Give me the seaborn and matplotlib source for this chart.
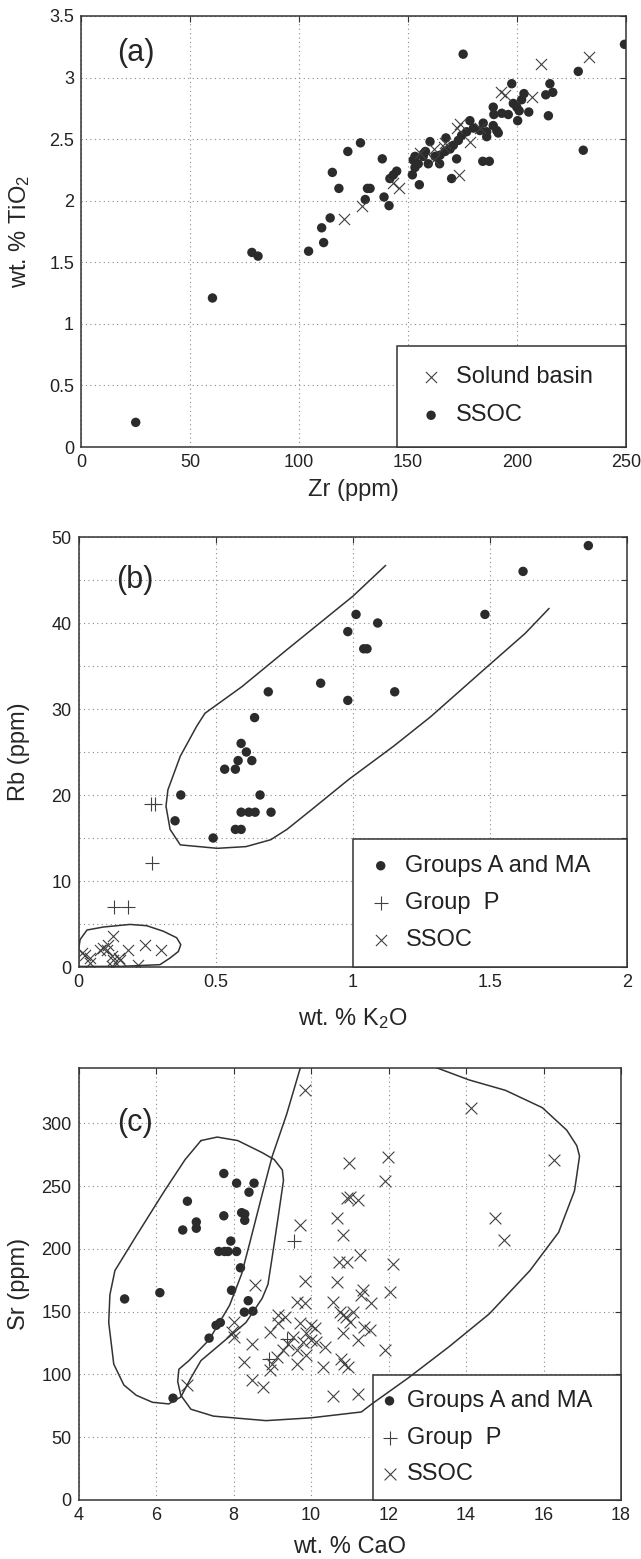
import numpy as np
import pandas as pd
import matplotlib
matplotlib.use("Agg")
import matplotlib.pyplot as plt
import seaborn as sns

# ---------------- data: panel (a) ----------------
ssoc_a_zr = [25.1, 60.3, 78.4, 81.2, 104.4, 110.4, 111.3, 114.3, 115.3, 118.3, 122.4, 128.2,
             130.4, 131.4, 132.6, 138.2, 139.0, 141.3, 141.7, 143.3, 144.8, 152.0, 152.4, 153.2,
             153.2, 154.7, 155.2, 157.0, 159.3, 160.1, 162.4, 164.7, 164.5, 167.0, 167.4, 169.3,
             170.0, 170.8, 172.3, 173.1, 174.6, 175.3, 176.9, 178.4, 180.0, 183.0, 184.5, 184.3,
             186.1, 186.1, 187.3, 189.1, 189.1, 189.4, 190.7, 191.4, 193.0, 196.0, 197.6, 198.3,
             199.9, 200.3, 201.0, 202.1, 203.2, 205.4, 213.2, 214.4, 215.1, 216.4, 228.1, 230.4,
             249.3, 157.0, 163.2, 158.0]
ssoc_a_ti = [0.20, 1.21, 1.58, 1.55, 1.59, 1.78, 1.66, 1.86, 2.23, 2.10, 2.40, 2.47,
             2.01, 2.10, 2.10, 2.34, 2.03, 1.96, 2.18, 2.21, 2.24, 2.21, 2.33, 2.36,
             2.27, 2.30, 2.13, 2.36, 2.30, 2.48, 2.36, 2.37, 2.30, 2.40, 2.51, 2.42,
             2.18, 2.45, 2.34, 2.49, 2.53, 3.19, 2.56, 2.65, 2.59, 2.57, 2.63, 2.32,
             2.56, 2.52, 2.32, 2.76, 2.61, 2.70, 2.57, 2.55, 2.71, 2.70, 2.95, 2.79,
             2.76, 2.65, 2.73, 2.82, 2.87, 2.72, 2.86, 2.69, 2.95, 2.88, 3.05, 2.41,
             3.27, 2.38, 2.36, 2.40]
solund_zr = [120.5, 128.9, 143.0, 146.1, 155.3, 162.0, 161.7, 166.7, 167.0, 172.7, 174.0,
             173.5, 178.5, 183.2, 192.5, 194.5, 207.0, 210.8, 232.8]
solund_ti = [1.85, 1.96, 2.14, 2.10, 2.39, 2.33, 2.42, 2.44, 2.47, 2.59, 2.62,
             2.21, 2.48, 2.59, 2.88, 2.86, 2.84, 3.11, 3.17]

# ---------------- data: panel (b) ----------------
ama_b_k2o = [0.352, 0.373, 0.491, 0.533, 0.572, 0.572, 0.593, 0.582, 0.593, 0.612, 0.632,
             0.593, 0.621, 0.644, 0.642, 0.662, 0.692, 0.702, 0.883, 0.982, 0.982, 1.012,
             1.040, 1.052, 1.091, 1.153, 1.482, 1.621, 1.859]
ama_b_rb = [17, 20, 15, 23, 23, 16, 16, 24, 26, 25, 24,
            18, 18, 18, 29, 20, 32, 18, 33, 39, 31, 41,
            37, 37, 40, 32, 41, 46, 49]
grpP_b_k2o = [0.263, 0.278, 0.268, 0.131, 0.182]
grpP_b_rb = [19, 19, 12.1, 7, 7]
ssoc_b_k2o = [0.012, 0.024, 0.043, 0.043, 0.079, 0.091, 0.109, 0.103, 0.127, 0.122, 0.127,
              0.146, 0.152, 0.122, 0.182, 0.218, 0.243, 0.300]
ssoc_b_rb = [1.6, 1.43, 1.05, 0.47, 2.0, 2.2, 2.6, 2.0, 3.56, 1.23, 0.85,
             1.05, 0.85, 0.07, 2.0, 0.27, 2.6, 2.0]
env_b1_x = [1.120, 1.000, 0.760, 0.596, 0.461, 0.431, 0.371, 0.326, 0.319, 0.334, 0.371,
            0.506, 0.611, 0.701, 0.760, 0.850, 0.985, 1.150, 1.284, 1.479, 1.629, 1.716]
env_b1_y = [46.7, 43.1, 36.9, 32.6, 29.5, 28.0, 24.5, 20.6, 18.7, 16.0, 14.2,
            13.8, 14.0, 14.8, 16.0, 18.3, 21.8, 25.7, 29.1, 34.6, 38.8, 41.7]
env_b2_x = [0.0, 0.006, 0.031, 0.091, 0.188, 0.249, 0.310, 0.358, 0.373, 0.364, 0.334,
            0.297, 0.152, 0.0, 0.0]
env_b2_y = [2.0, 3.2, 4.3, 4.65, 4.95, 4.8, 4.15, 3.4, 2.6, 1.8, 1.05,
            0.27, 0.07, 0.07, 2.0]

# ---------------- data: panel (c) ----------------
ama_c_cao = [5.19, 6.10, 6.44, 6.69, 6.81, 7.04, 7.04, 7.37, 7.55, 7.66, 7.62, 7.75, 7.75,
             7.77, 7.86, 7.93, 7.95, 8.08, 8.08, 8.18, 8.21, 8.29, 8.29, 8.28, 8.40, 8.38,
             8.53, 8.50]
ama_c_sr = [160.1, 165.1, 81.1, 215.0, 237.9, 221.4, 216.4, 128.9, 139.1, 141.3, 197.9, 260.0,
            226.3, 197.9, 197.9, 206.2, 167.0, 197.9, 252.3, 184.9, 228.8, 227.7, 222.7, 149.6,
            245.1, 158.7, 252.3, 150.4]
grpP_c_cao = [9.57, 9.37, 8.92]
grpP_c_sr = [206.2, 128.6, 112.6]
ssoc_c_cao = [9.84, 14.13, 16.26, 11.98, 10.99, 11.91, 10.93, 11.00, 11.20, 10.68, 14.76,
              9.71, 14.97, 10.83, 11.27, 10.73, 10.94, 12.12, 6.80,
              8.56, 9.84, 10.66, 11.34, 12.03, 11.55, 11.30, 9.63, 9.84, 10.57, 10.74,
              10.83, 10.91, 11.08, 11.00, 11.38, 11.51, 10.83, 11.21, 11.90, 8.00, 7.96,
              8.00, 8.47, 8.26, 8.47, 8.77, 9.16, 9.33, 8.94, 9.16, 9.54, 9.41, 9.71,
              10.01, 10.10, 9.88, 10.01, 10.14, 10.36, 9.80, 9.63, 9.28, 9.11, 8.99, 8.94,
              9.88, 9.63, 10.31, 10.78, 10.86, 10.95, 10.57, 11.21]
ssoc_c_sr = [326.3, 311.9, 271.0, 272.9, 268.2, 253.9, 240.5, 241.0, 239.0, 224.7, 224.7,
             218.6, 207.0, 210.9, 195.1, 189.6, 189.6, 188.2, 91.6,
             171.4, 174.1, 173.3, 167.4, 166.0, 156.7, 163.4, 158.0, 156.7, 158.0, 150.0,
             147.3, 146.0, 150.0, 142.0, 138.0, 135.3, 132.6, 127.3, 119.3, 142.0, 134.0,
             130.0, 124.1, 109.9, 95.2, 89.8, 147.3, 146.0, 134.0, 140.6, 130.0, 124.6, 140.6,
             139.3, 136.6, 132.6, 127.3, 125.9, 121.9, 125.9, 119.3, 119.3, 113.9, 108.6, 103.2,
             115.2, 108.6, 105.9, 112.6, 108.6, 105.9, 83.2, 84.5]
env_c1_x = [7.16, 7.58, 8.11, 8.74, 9.05, 9.26, 9.29, 9.16, 9.00, 8.89, 8.74, 8.32, 7.69,
            7.16, 6.90, 6.64, 6.33, 5.91, 5.49, 5.17, 4.91, 4.78, 4.81, 4.94, 5.49, 6.22,
            6.75, 7.16]
env_c1_y = [286.2, 289.0, 286.2, 276.6, 271.1, 262.8, 254.5, 226.9, 193.8, 171.7, 160.6,
            141.3, 124.8, 111.0, 97.2, 82.0, 76.5, 77.8, 83.4, 91.6, 108.2, 141.3, 163.4,
            182.7, 210.3, 246.2, 271.0, 286.2]
env_c2_x = [9.80, 9.37, 9.00, 8.74, 8.42, 8.21, 7.90, 7.37, 6.85, 6.59, 6.56, 6.64, 6.90,
            7.48, 8.84, 9.99, 11.30, 11.57, 12.51, 13.56, 14.60, 15.65, 16.39, 16.80, 16.93,
            16.86, 16.60, 15.97, 15.02, 14.08, 13.24, 13.00]
env_c2_y = [352, 307, 273.8, 243.4, 204.8, 180.0, 155.1, 127.5, 111.0, 104.1, 94.4, 83.4,
            72.3, 66.8, 63.2, 65.4, 70.1, 76.5, 97.2, 122.0, 148.2, 182.7, 213.1, 246.2,
            273.8, 282.1, 294.5, 312.4, 326.2, 334.5, 344.2, 352]

# ---------------- style ----------------
sns.set_theme(style="white")
plt.rcParams["font.family"] = ["Liberation Sans", "DejaVu Sans"]
plt.rcParams["mathtext.fontset"] = "custom"
plt.rcParams["mathtext.rm"] = "Liberation Sans"
plt.rcParams["mathtext.it"] = "Liberation Sans:italic"

DOT = "#2b2b2b"
XCOL = "#404040"
SPINE = "#333333"
TICK_FS = 13
LAB_FS = 17
LEG_FS = 17

W, H = 641, 1559
fig = plt.figure(figsize=(W / 100, H / 100), dpi=100)

def axes_px(l, t, r, b):
    return fig.add_axes([l / W, 1 - b / H, (r - l) / W, (b - t) / H])

axA = axes_px(81, 16, 626, 447)
axB = axes_px(78.5, 537, 627, 967)
axC = axes_px(78.5, 1068, 621, 1500)

def style_axes(ax):
    for s in ax.spines.values():
        s.set_color(SPINE)
        s.set_linewidth(1.1)
        s.set_visible(True)
    ax.tick_params(which="both", direction="in", length=4, width=0.8, color=SPINE,
                   top=True, right=True, labelsize=TICK_FS, pad=5, labelcolor="#222222")
    ax.grid(True, which="both", color="#8a8a8a", linestyle=(0, (1, 3)), linewidth=0.8)
    ax.set_axisbelow(True)

def dots(ax, x, y, label):
    sns.scatterplot(x=x, y=y, ax=ax, marker="o", s=46, color=DOT, edgecolor="none",
                    linewidth=0, label=label, zorder=3)

def crosses(ax, x, y, label, marker="x", s=64):
    sns.scatterplot(x=x, y=y, ax=ax, marker=marker, s=s, color=XCOL, linewidth=0.8,
                    label=label, zorder=4)

def make_legend(ax, order, bbox, bp, ls, hl, htp):
    h, l = ax.get_legend_handles_labels()
    d = dict(zip(l, h))
    leg = ax.legend([d[k] for k in order], order, loc="lower right", bbox_to_anchor=bbox,
                    mode="expand", borderaxespad=0, frameon=True, fancybox=False,
                    edgecolor=SPINE, facecolor="white", framealpha=1, fontsize=LEG_FS,
                    borderpad=bp, labelspacing=ls, handlelength=hl, handletextpad=htp,
                    scatterpoints=1)
    leg.get_frame().set_linewidth(1.1)
    for t in leg.get_texts():
        t.set_color("#222222")
    return leg

# ---------------- panel (a) ----------------
dots(axA, ssoc_a_zr, ssoc_a_ti, "SSOC")
crosses(axA, solund_zr, solund_ti, "Solund basin")
axA.set_xlim(0, 250)
axA.set_ylim(0, 3.5)
axA.set_xticks([0, 50, 100, 150, 200, 250])
axA.set_yticks([0, 0.5, 1, 1.5, 2, 2.5, 3, 3.5])
axA.set_yticklabels(["0", "0.5", "1", "1.5", "2", "2.5", "3", "3.5"])
style_axes(axA)
axA.set_xlabel("Zr (ppm)", fontsize=LAB_FS)
axA.set_ylabel("wt. % TiO$_2$", fontsize=LAB_FS)
axA.text(25, 3.2, "(a)", fontsize=22, ha="center", va="center")
make_legend(axA, ["Solund basin", "SSOC"], (0.58, 0, 0.42, 0.234), 0.87, 0.68, 1.14, 0.49)

# ---------------- panel (b) ----------------
dots(axB, ama_b_k2o, ama_b_rb, "Groups A and MA")
crosses(axB, grpP_b_k2o, grpP_b_rb, "Group  P", marker="+", s=90)
crosses(axB, ssoc_b_k2o, ssoc_b_rb, "SSOC")
axB.plot(env_b1_x, env_b1_y, color=SPINE, lw=1.1, zorder=6)
axB.plot(env_b2_x, env_b2_y, color=SPINE, lw=1.1, zorder=6)
axB.set_xlim(0, 2)
axB.set_ylim(0, 50)
axB.set_xticks([0, 0.5, 1, 1.5, 2])
axB.set_xticklabels(["0", "0.5", "1", "1.5", "2"])
axB.set_yticks([0, 10, 20, 30, 40, 50])
axB.set_yticks([5, 15, 25, 35, 45], minor=True)
style_axes(axB)
axB.set_xlabel("wt. % K$_2$O", fontsize=LAB_FS)
axB.set_ylabel("Rb (ppm)", fontsize=LAB_FS)
axB.text(0.207, 45, "(b)", fontsize=22, ha="center", va="center")
make_legend(axB, ["Groups A and MA", "Group  P", "SSOC"], (0.5, 0, 0.5, 0.3),
            0.67, 0.64, 1.03, 0.53)

# ---------------- panel (c) ----------------
dots(axC, ama_c_cao, ama_c_sr, "Groups A and MA")
crosses(axC, grpP_c_cao, grpP_c_sr, "Group  P", marker="+", s=110)
crosses(axC, ssoc_c_cao, ssoc_c_sr, "SSOC", s=72)
axC.plot(env_c1_x, env_c1_y, color=SPINE, lw=1.1, zorder=6)
axC.plot(env_c2_x, env_c2_y, color=SPINE, lw=1.1, zorder=6)
axC.set_xlim(4, 18)
axC.set_ylim(0, 344)
axC.set_xticks([4, 6, 8, 10, 12, 14, 16, 18])
axC.set_yticks([0, 50, 100, 150, 200, 250, 300])
style_axes(axC)
axC.set_xlabel("wt. % CaO", fontsize=LAB_FS)
axC.set_ylabel("Sr (ppm)", fontsize=LAB_FS)
axC.text(5.47, 300, "(c)", fontsize=22, ha="center", va="center")
make_legend(axC, ["Groups A and MA", "Group  P", "SSOC"], (0.542, 0, 0.458, 0.30),
            0.62, 0.62, 0.2, 0.62)

for ax in (axA, axB, axC):
    ax.yaxis.set_label_coords(-0.089, 0.5)
axA.xaxis.set_label_coords(0.5, -0.074)
axB.xaxis.set_label_coords(0.5, -0.092)
axC.xaxis.set_label_coords(0.5, -0.083)

fig.savefig("out.png", dpi=100, facecolor="white")
